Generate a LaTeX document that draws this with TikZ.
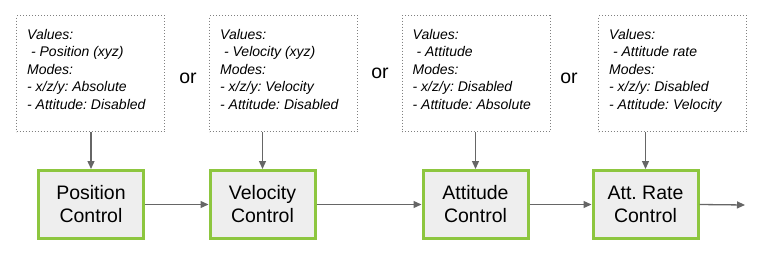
\documentclass[tikz,border=0pt]{standalone}
\usepackage{fontspec}
\setmainfont{Liberation Sans}
\usetikzlibrary{arrows.meta}
\definecolor{ctrlgreen}{HTML}{8DC63F}
\definecolor{ctrlfill}{HTML}{EEEEEE}
\definecolor{wiregray}{HTML}{666666}
\definecolor{dotgray}{HTML}{808080}
\frenchspacing

\begin{document}
\begin{tikzpicture}[x=1pt, y=-1pt,
    ctrl/.style={draw=ctrlgreen, line width=3pt, fill=ctrlfill, minimum width=105pt,
      minimum height=68pt, align=center, font=\fontsize{19.5}{23}\selectfont},
    setbox/.style={draw=dotgray, dotted, line width=1pt, minimum width=148pt, minimum height=116pt},
    settext/.style={anchor=base west, inner sep=0pt, align=left,
      font=\fontsize{14}{17.5}\selectfont\itshape},
    choice/.style={font=\fontsize{19.5}{23}\selectfont},
    link/.style={draw=wiregray, line width=1.3pt, -{Triangle[length=8pt, width=7pt]}}]
    \useasboundingbox (0,0) rectangle (768,260);
    % setpoint boxes
    \node[setbox] (set1) at (90.5,73.5) {};
    \node[setbox] (set2) at (283.5,73.5) {};
    \node[setbox] (set3) at (476,73.5) {};
    \node[setbox] (set4) at (672.5,73.5) {};
    \node[settext] (txt1) at ([shift={(11,94)}]set1.north west)
        {Values:\\\ - Position (xyz)\\Modes:\\- x/z/y: Absolute\\- Attitude: Disabled};
    \node[settext] (txt2) at ([shift={(11,94)}]set2.north west)
        {Values:\\\ - Velocity (xyz)\\Modes:\\- x/z/y: Velocity\\- Attitude: Disabled};
    \node[settext] (txt3) at ([shift={(11,94)}]set3.north west)
        {Values:\\\ - Attitude\\Modes:\\- x/z/y: Disabled\\- Attitude: Absolute};
    \node[settext] (txt4) at ([shift={(11,94)}]set4.north west)
        {Values:\\\ - Attitude rate\\Modes:\\- x/z/y: Disabled\\- Attitude: Velocity};
    \node[choice] (or1) at (188,78) {or};
    \node[choice] (or2) at (380,73) {or};
    \node[choice] (or3) at (569,78) {or};
    % control chain
    \node[ctrl] (pos) at (91,204.5) {Position\\Control};
    \node[ctrl] (vel) at (262.5,204.5) {Velocity\\Control};
    \node[ctrl] (att) at (475.5,204.5) {Attitude\\Control};
    \node[ctrl] (rate) at (645.5,204.5) {Att. Rate\\Control};
    \coordinate (exit) at (745,205);
    \draw[link] (pos.east) -- (vel.west);
    \draw[link] (vel.east) -- (att.west);
    \draw[link] (att.east) -- (rate.west);
    \draw[link] (rate.east) -- (exit);
    \draw[link] (pos |- set1.south) -- (pos.north);
    \draw[link] (vel |- set2.south) -- (vel.north);
    \draw[link] (att |- set3.south) -- (att.north);
    \draw[link] (rate |- set4.south) -- (rate.north);
\end{tikzpicture}
\end{document}
